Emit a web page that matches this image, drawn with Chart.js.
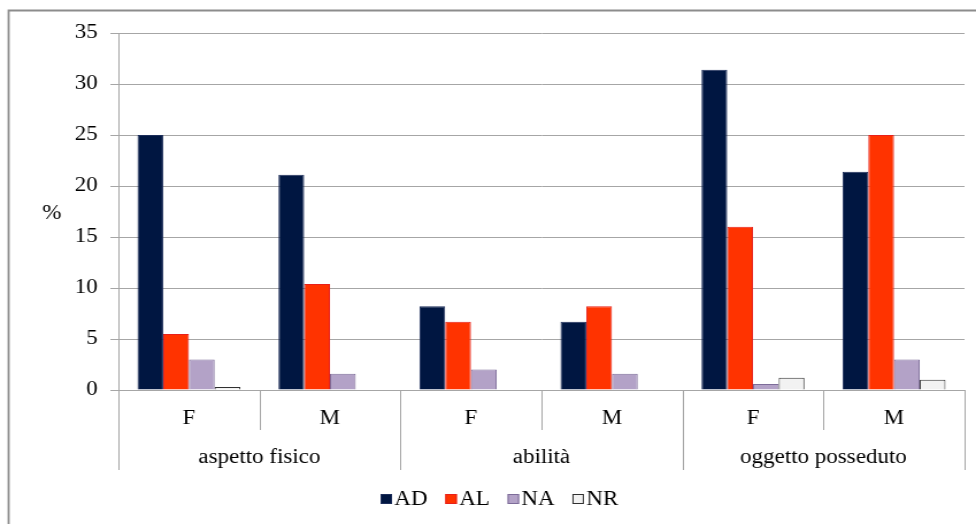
<!DOCTYPE html>
<html>
<head>
<meta charset="utf-8">
<title>AD / AL / NA / NR per categoria</title>
<script src="https://cdn.jsdelivr.net/npm/chart.js@4.4.1/dist/chart.umd.min.js"></script>
<style>
  html, body { margin: 0; padding: 0; background: #ffffff; overflow: hidden; }
  /* the drawing is made on a narrower canvas and widened to the page width */
  #chart { display: block; width: 976px !important; height: 524px !important; }
</style>
</head>
<body>
<canvas id="chart" width="849" height="524" style="width:976px;height:524px"></canvas>
<script>
// Categories: sex within each group
const categories = ['F', 'M', 'F', 'M', 'F', 'M'];
const groups = ['aspetto fisico', 'abilità', 'oggetto posseduto'];

// Percentages per series
const seriesNames = ['AD', 'AL', 'NA', 'NR'];
const valuesAD = [25.0, 21.1, 8.2, 6.7, 31.4, 21.4];
const valuesAL = [5.5, 10.4, 6.7, 8.2, 16.0, 25.0];
const valuesNA = [3.0, 1.6, 2.0, 1.6, 0.6, 3.0];
const valuesNR = [0.3, 0, 0, 0, 1.2, 1.0];

const yTicks = [0, 5, 10, 15, 20, 25, 30, 35];

const FONT = '"Liberation Serif", "Times New Roman", serif';
const GRID = '#a6a6a6';

// Frame, "%" caption, category dividers, group labels and the legend row
const decorations = {
  id: 'decorations',
  beforeDraw(chart) {
    const ctx = chart.ctx;
    ctx.save();
    ctx.fillStyle = '#ffffff';
    ctx.fillRect(0, 0, chart.width, chart.height);
    ctx.strokeStyle = '#8c8c8c';
    ctx.lineWidth = 1.8;
    ctx.beginPath();
    ctx.moveTo(7.5, chart.height);
    ctx.lineTo(7.5, 10.5);
    ctx.lineTo(chart.width, 10.5);
    ctx.stroke();
    ctx.restore();
  },
  afterDraw(chart) {
    const ctx = chart.ctx;
    const x = chart.scales.x;
    const y = chart.scales.y;
    const area = chart.chartArea;
    const n = categories.length;
    const step = (x.right - x.left) / n;
    ctx.save();
    ctx.strokeStyle = GRID;
    ctx.lineWidth = 1;
    for (let i = 0; i <= n; i++) {
      const px = Math.round(x.left + i * step) + 0.5;
      const len = (i % 2 === 0) ? 80 : 40;
      ctx.beginPath();
      ctx.moveTo(px, area.bottom);
      ctx.lineTo(px, area.bottom + len);
      ctx.stroke();
    }
    ctx.fillStyle = '#000000';
    ctx.font = '20px ' + FONT;
    ctx.textAlign = 'center';
    ctx.textBaseline = 'middle';
    groups.forEach((g, gi) => {
      const cx = (x.getPixelForValue(gi * 2) + x.getPixelForValue(gi * 2 + 1)) / 2;
      ctx.fillText(g, cx, area.bottom + 68);
    });
    ctx.fillText('%', 45, (y.top + y.bottom) / 2 + 2);

    // legend row
    const ly = 499;
    let lx = 331;
    ctx.textAlign = 'left';
    chart.data.datasets.forEach(ds => {
      ctx.fillStyle = ds.backgroundColor;
      ctx.strokeStyle = ds.borderColor;
      ctx.lineWidth = 1;
      ctx.fillRect(lx, ly - 5, 10, 10);
      ctx.strokeRect(lx + 0.5, ly - 4.5, 9, 9);
      ctx.fillStyle = '#000000';
      ctx.fillText(ds.label, lx + 12, ly + 1);
      lx += 12 + ctx.measureText(ds.label).width + 15.5;
    });
    ctx.restore();
  }
};

new Chart(document.getElementById('chart'), {
  type: 'bar',
  data: {
    labels: categories,
    datasets: [
      { label: seriesNames[0], data: valuesAD, backgroundColor: '#001641', borderColor: '#1c2d5a', borderWidth: 1 },
      { label: seriesNames[1], data: valuesAL, backgroundColor: '#ff3300', borderColor: '#e8201a', borderWidth: 1 },
      { label: seriesNames[2], data: valuesNA, backgroundColor: '#b3a2c7', borderColor: '#7d6c99', borderWidth: 1 },
      { label: seriesNames[3], data: valuesNR, backgroundColor: '#f2f2f2', borderColor: '#303030', borderWidth: 1 }
    ]
  },
  options: {
    responsive: false,
    animation: false,
    devicePixelRatio: 1,
    layout: { padding: { left: 7, top: 33, right: 10, bottom: 54 } },
    datasets: { bar: { categoryPercentage: 0.73, barPercentage: 1.0 } },
    plugins: {
      tooltip: { enabled: false },
      legend: { display: false }
    },
    scales: {
      x: {
        grid: { display: false, drawTicks: false },
        border: { display: true, color: GRID, width: 1 },
        ticks: {
          font: { family: FONT, size: 20 },
          color: '#000000',
          padding: 17,
          maxRotation: 0
        },
        afterFit(scale) { scale.height = 80; }
      },
      y: {
        min: 0,
        max: 35,
        afterBuildTicks(scale) { scale.ticks = yTicks.map(v => ({ value: v })); },
        grid: { color: GRID, lineWidth: 1, drawTicks: true, tickLength: 7 },
        border: { display: true, color: GRID, width: 1 },
        ticks: {
          font: { family: FONT, size: 20 },
          color: '#000000',
          padding: 11
        },
        afterFit(scale) { scale.width = 96; }
      }
    }
  },
  plugins: [decorations]
});
</script>
</body>
</html>
